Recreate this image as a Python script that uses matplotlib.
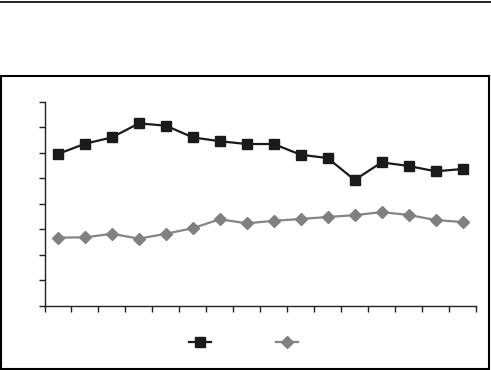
import numpy as np
import matplotlib.pyplot as plt
from matplotlib.lines import Line2D
from matplotlib.patches import Rectangle

# values (no labels shown in the reference)
periods = list(range(1, 17))
series_a = [5.95, 6.35, 6.60, 7.15, 7.06, 6.60, 6.45, 6.34,
            6.34, 5.92, 5.79, 4.93, 5.62, 5.48, 5.27, 5.36]
series_b = [2.67, 2.68, 2.82, 2.63, 2.82, 3.04, 3.39, 3.23,
            3.33, 3.40, 3.48, 3.55, 3.67, 3.56, 3.36, 3.28]
y_ticks = np.arange(0, 9, 1)

fig = plt.figure(figsize=(4.91, 3.70), dpi=100)
ax = fig.add_axes([44.5 / 491, 1 - 305.7 / 370, (476 - 44.5) / 491, (305.7 - 101.7) / 370])

x = np.array(periods) - 0.5
ax.plot(x, series_a, color='#1a1a1a', lw=1.6, marker='s', ms=7.5, mfc='#1a1a1a', mec='#1a1a1a')
ax.plot(x, series_b, color='#858585', lw=1.6, marker='D', ms=6.5, mfc='#808080', mec='#808080')

ax.set_xlim(0, len(periods))
ax.set_ylim(0, 8)
ax.set_xticks(np.arange(0, len(periods) + 1))
ax.set_yticks(y_ticks)
ax.set_xticklabels([])
ax.set_yticklabels([])
ax.tick_params(direction='out', length=4, width=1, color='#222222')
for s in ['top', 'right']:
    ax.spines[s].set_visible(False)
for s in ['left', 'bottom']:
    ax.spines[s].set_color('#222222')
    ax.spines[s].set_linewidth(1)

# outer frame and top rule
fig.patches.append(Rectangle((1 / 491, 1 - 369 / 370), 488 / 491, (369 - 76) / 370,
                             transform=fig.transFigure, fill=False, lw=1.5, ec='black'))
fig.add_artist(Line2D([0, 1], [1 - 1.5 / 370, 1 - 1.5 / 370], transform=fig.transFigure,
                      color='black', lw=1.2))

# legend without text
h1 = Line2D([], [], color='#1a1a1a', lw=1.6, marker='s', ms=6.5, mfc='#1a1a1a')
h2 = Line2D([], [], color='#858585', lw=1.6, marker='D', ms=6, mfc='#808080', mec='#808080')
fig.legend([h1, h2], ['', ''], ncol=2, frameon=False, handlelength=1.6, columnspacing=3.85,
           loc='center', bbox_to_anchor=(0.507, 1 - 343 / 370))

fig.savefig('out.png', dpi=100)
